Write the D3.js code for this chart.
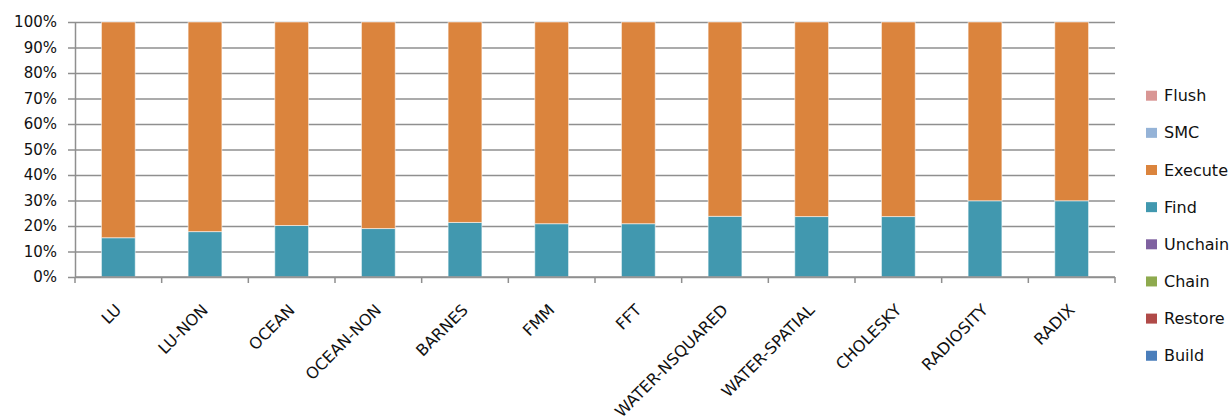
<!DOCTYPE html>
<html>
<head>
<meta charset="utf-8">
<script src="https://cdn.jsdelivr.net/npm/d3@7"></script>
<style>
  html, body { margin: 0; padding: 0; background: #fff; }
  svg { display: block; font-family: "DejaVu Sans", sans-serif; }
</style>
</head>
<body>
<svg id="chart" width="1232" height="417"></svg>
<script>
// Benchmarks along the x axis
const categories = ["LU", "LU-NON", "OCEAN", "OCEAN-NON", "BARNES", "FMM", "FFT",
  "WATER-NSQUARED", "WATER-SPATIAL", "CHOLESKY", "RADIOSITY", "RADIX"];

// Share of time per phase (percent), stacked bottom to top
const build   = [0, 0, 0, 0, 0, 0, 0, 0, 0, 0, 0, 0];
const restore = [0, 0, 0, 0, 0, 0, 0, 0, 0, 0, 0, 0];
const chain   = [0, 0, 0, 0, 0, 0, 0, 0, 0, 0, 0, 0];
const unchain = [0, 0, 0, 0, 0, 0, 0, 0, 0, 0, 0, 0];
const find    = [15.4, 17.8, 20.2, 19.0, 21.4, 20.9, 20.9, 23.8, 23.7, 23.7, 29.9, 29.9];
const execute = [84.6, 82.2, 79.8, 81.0, 78.6, 79.1, 79.1, 76.2, 76.3, 76.3, 70.1, 70.1];
const smc     = [0, 0, 0, 0, 0, 0, 0, 0, 0, 0, 0, 0];
const flush   = [0, 0, 0, 0, 0, 0, 0, 0, 0, 0, 0, 0];

const seriesNames = ["Build", "Restore", "Chain", "Unchain", "Find", "Execute", "SMC", "Flush"];
const seriesValues = [build, restore, chain, unchain, find, execute, smc, flush];
const seriesColors = ["#4A7EBB", "#B04A48", "#8EAA4E", "#7F61A0", "#4198AF", "#DB843D", "#95B3D7", "#D99694"];

const yTicks = [0, 0.1, 0.2, 0.3, 0.4, 0.5, 0.6, 0.7, 0.8, 0.9, 1.0];

const rows = categories.map((c, i) => {
  const r = { cat: c };
  let total = 0;
  seriesNames.forEach((s, k) => { r[s] = seriesValues[k][i]; total += seriesValues[k][i]; });
  seriesNames.forEach(s => { r[s] = r[s] / total; });
  return r;
});

const svg = d3.select("#chart");
const plotLeft = 75, plotRight = 1115, plotTop = 22, plotBottom = 277;

const x = d3.scaleBand().domain(categories).range([plotLeft, plotRight])
  .paddingInner(0.61).paddingOuter(0.305);
const y = d3.scaleLinear().domain([0, 1]).range([plotBottom, plotTop]);
const color = d3.scaleOrdinal().domain(seriesNames).range(seriesColors);

const gridColor = "#8f8f8f";

// Horizontal gridlines and y axis
const yAxis = svg.append("g")
  .attr("transform", `translate(${plotLeft},0)`)
  .call(d3.axisLeft(y).tickValues(yTicks).tickFormat(d3.format(".0%"))
    .tickSize(-(plotRight - plotLeft)).tickSizeOuter(0).tickPadding(18));
yAxis.select(".domain").attr("stroke", gridColor).attr("stroke-width", 1.5);
yAxis.selectAll(".tick line").attr("stroke", gridColor).attr("stroke-width", 1.5)
  .attr("x1", -7);
yAxis.selectAll(".tick text").attr("font-size", 15).attr("fill", "#111")
  .attr("font-family", "DejaVu Sans, sans-serif");

// Stacked bars
const stacked = d3.stack().keys(seriesNames)(rows);
svg.append("g").selectAll("g").data(stacked).join("g")
  .attr("fill", d => color(d.key))
  .selectAll("rect").data(d => d.filter(p => p[1] - p[0] > 0)).join("rect")
  .attr("x", d => x(d.data.cat))
  .attr("width", x.bandwidth())
  .attr("y", d => y(d[1]))
  .attr("height", d => y(d[0]) - y(d[1]))
  .attr("stroke", "rgba(255,255,255,0.55)")
  .attr("stroke-width", 1);

// X axis with ticks between categories
const boundaries = d3.range(categories.length + 1).map(i => plotLeft + i * x.step());
const xAxis = svg.append("g");
xAxis.append("line").attr("x1", plotLeft).attr("x2", plotRight)
  .attr("y1", plotBottom).attr("y2", plotBottom)
  .attr("stroke", gridColor).attr("stroke-width", 1.5);
xAxis.selectAll("line.tk").data(boundaries).join("line").attr("class", "tk")
  .attr("x1", d => d).attr("x2", d => d)
  .attr("y1", plotBottom).attr("y2", plotBottom + 6)
  .attr("stroke", gridColor).attr("stroke-width", 1.5);

// Rotated category labels
svg.append("g").selectAll("text").data(categories).join("text")
  .attr("transform", d => {
    const cx = x(d) + x.bandwidth() / 2;
    const cy = plotBottom + 30;
    return `translate(${cx},${cy}) rotate(-45)`;
  })
  .attr("text-anchor", "end")
  .attr("dy", "0.35em")
  .attr("font-size", 16)
  .attr("fill", "#111")
  .text(d => d);

// Legend, top entry is the top of the stack
const legendItems = seriesNames.slice().reverse();
const legend = svg.append("g").selectAll("g").data(legendItems).join("g")
  .attr("transform", (d, i) => `translate(1146, ${95.7 + i * 37.15})`);
legend.append("rect").attr("x", 0).attr("y", -5).attr("width", 11).attr("height", 10)
  .attr("fill", d => color(d));
legend.append("text").attr("x", 18).attr("dy", "0.35em")
  .attr("font-size", 16).attr("fill", "#111").text(d => d);
</script>
</body>
</html>
